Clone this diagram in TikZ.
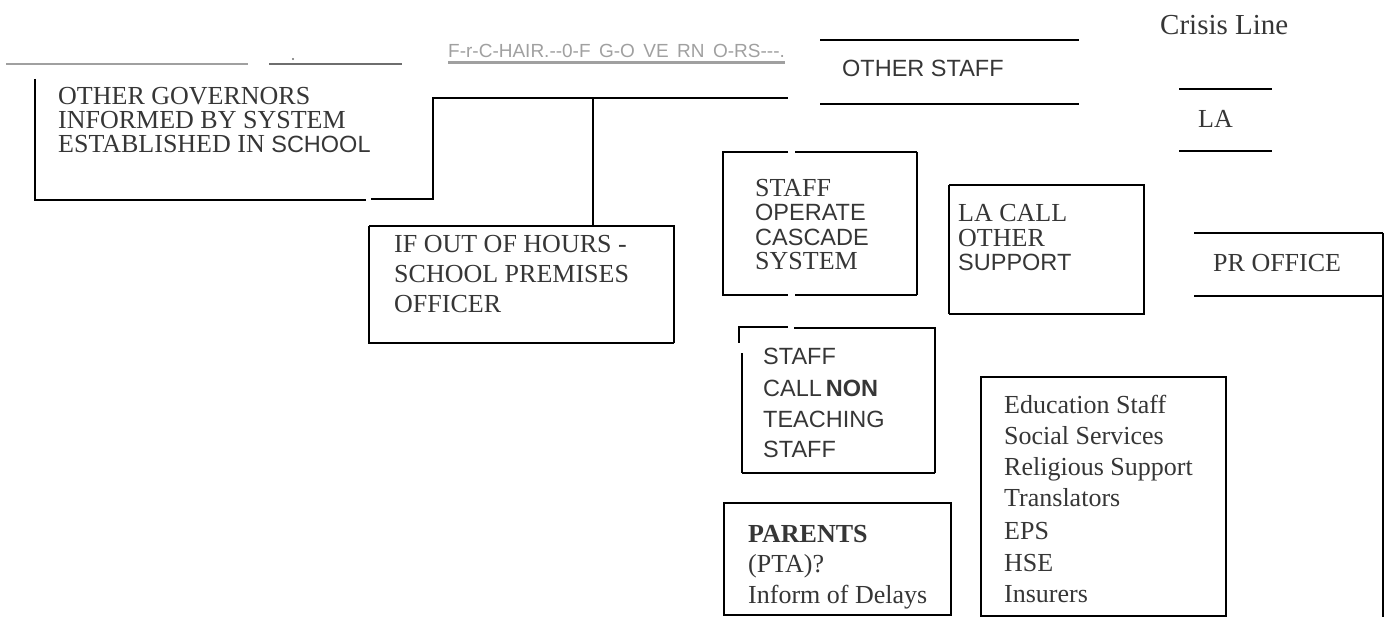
\documentclass[tikz,border=0pt]{standalone}
\usepackage{fontspec}
\setmainfont{Liberation Serif}
\setsansfont{Liberation Sans}
\definecolor{ink}{HTML}{363636}
\definecolor{pale}{HTML}{A0A0A0}
\definecolor{mid}{HTML}{6E6E6E}
\begin{document}
\begin{tikzpicture}[x=1pt,y=-1pt,
  tx/.style={anchor=base west,inner sep=0pt,text=ink,text depth=0pt,font=\fontsize{26}{30}\selectfont},
  sx/.style={anchor=base west,inner sep=0pt,text=ink,text depth=0pt,font=\sffamily\fontsize{23.5}{28}\selectfont},
  ln/.style={line width=2pt,black},
  thk/.style={line width=2.6pt,black},
  thn/.style={line width=1.4pt,black}]
\useasboundingbox (0,0) rectangle (1393,617);

% top-left fragments
\coordinate (g1a) at (6,64); \coordinate (g1b) at (248,64);
\draw[line width=2.6pt,pale] (g1a) -- (g1b);
\coordinate (g2a) at (269,64); \coordinate (g2b) at (402,64);
\draw[line width=2.6pt,mid] (g2a) -- (g2b);
\fill[mid] (293,59) circle (1.2);

% chair of governors (garbled)
\node[anchor=base west,inner sep=0pt,text=pale,text depth=0pt,font=\sffamily\fontsize{19}{22}\selectfont] (chair) at (448,58) {F-r-C-HAIR.-{}-0-F\, G-O\, VE\, RN\, O-RS-{}-{}-.};
\coordinate (cua) at (448,63); \coordinate (cub) at (785,63);
\draw[line width=3pt,pale] (cua) -- (cub);

% other staff
\coordinate (os1) at (820,40); \coordinate (os2) at (1079,40);
\coordinate (os3) at (820,104); \coordinate (os4) at (1079,104);
\draw[thk] (os1) -- (os2);
\draw[thk] (os3) -- (os4);
\node[sx] (ostaff) at (842,77) {OTHER STAFF};

% crisis line / LA
\node[tx,font=\fontsize{29}{32}\selectfont] (crisis) at (1160,35) {Crisis Line};
\coordinate (la1) at (1179,89); \coordinate (la2) at (1272,89);
\coordinate (la3) at (1179,151); \coordinate (la4) at (1272,151);
\draw[ln] (la1) -- (la2);
\draw[ln] (la3) -- (la4);
\node[tx] (la) at (1198,128) {LA};

% other governors box + connector
\coordinate (ogt) at (35,79); \coordinate (ogb) at (35,200);
\coordinate (ogr) at (366,200); \coordinate (ogg) at (371,199);
\coordinate (jb) at (433,199); \coordinate (jt) at (433,98);
\coordinate (je) at (788,98); \coordinate (jm) at (593,98);
\draw[thk] (ogt) -- (ogb) -- (ogr);
\draw[ln] (ogg) -- (jb) -- (jt) -- (je);
\node[tx] (og1) at (58,105) {OTHER GOVERNORS};
\node[tx] (og2) at (58,129) {INFORMED BY SYSTEM};
\node[tx] (og3) at (58,153) {ESTABLISHED IN {\sffamily\fontsize{23.5}{26}\selectfont SCHOOL}};

% IF OUT OF HOURS box
\coordinate (if1) at (369,226); \coordinate (if2) at (674,226);
\coordinate (if3) at (674,343); \coordinate (if4) at (369,343);
\coordinate (ifc) at (593,226);
\draw[ln] (jm) -- (ifc);
\draw[thn] (if1) -- (if2) -- (if3);
\draw[thk] (if3) -- (if4) -- (if1);
\node[tx] (if1t) at (394,253) {IF OUT OF HOURS -};
\node[tx] (if2t) at (394,283) {SCHOOL PREMISES};
\node[tx] (if3t) at (394,313) {OFFICER};

% staff operate cascade system
\coordinate (so1) at (723,152); \coordinate (so2) at (788,152);
\coordinate (so3) at (795,152); \coordinate (so4) at (917,152);
\coordinate (so5) at (917,295); \coordinate (so6) at (795,295);
\coordinate (so7) at (788,295); \coordinate (so8) at (723,295);
\draw[thn] (so2) -- (so1) -- (so8) -- (so7);
\draw[ln] (so3) -- (so4);
\draw[thk] (so4) -- (so5);
\draw[ln] (so5) -- (so6);
\node[tx] (so1t) at (755,197) {STAFF};
\node[sx] (so2t) at (755,221) {OPERATE};
\node[sx] (so3t) at (755,246) {CASCADE};
\node[tx] (so4t) at (755,270) {SYSTEM};

% LA call other support
\coordinate (lc1) at (949,185); \coordinate (lc2) at (1144,185);
\coordinate (lc3) at (1144,314); \coordinate (lc4) at (949,314);
\draw[thn] (lc4) -- (lc1);
\draw[ln] (lc1) -- (lc2) -- (lc3) -- (lc4);
\node[tx] (lc1t) at (958,222) {LA CALL};
\node[tx] (lc2t) at (958,247) {OTHER};
\node[sx] (lc3t) at (958,271) {SUPPORT};

% PR office
\coordinate (pr1) at (1194,233); \coordinate (pr2) at (1383,233);
\coordinate (pr3) at (1194,296); \coordinate (pr4) at (1383,296);
\coordinate (pr5) at (1383,617);
\draw[ln] (pr1) -- (pr2);
\draw[ln] (pr3) -- (pr4);
\draw[ln] (pr2) -- (pr5);
\node[tx] (prt) at (1213,272) {PR OFFICE};

% staff call non teaching staff
\coordinate (sc0) at (739,343); \coordinate (sc1) at (739,327);
\coordinate (sc2) at (788,327); \coordinate (sc3) at (794,328);
\coordinate (sc4) at (935,328); \coordinate (sc5) at (935,473);
\coordinate (sc6) at (742,473); \coordinate (sc7) at (742,353);
\draw[thk] (sc0) -- (sc1) -- (sc2);
\draw[thn] (sc3) -- (sc4) -- (sc5);
\draw[thk] (sc5) -- (sc6);
\draw[ln] (sc6) -- (sc7);
\node[sx] (sc1t) at (763,365) {STAFF};
\node[sx] (sc2t) at (763,397) {CALL\,\textbf{NON}};
\node[sx] (sc3t) at (763,428) {TEACHING};
\node[sx] (sc4t) at (763,458) {STAFF};

% education staff list
\coordinate (ed1) at (981,377); \coordinate (ed2) at (1226,377);
\coordinate (ed3) at (1226,616); \coordinate (ed4) at (981,616);
\draw[ln] (ed1) -- (ed2) -- (ed3) -- (ed4) -- cycle;
\node[tx] (e1) at (1004,414) {Education Staff};
\node[tx] (e2) at (1004,445) {Social Services};
\node[tx] (e3) at (1004,476) {Religious Support};
\node[tx] (e4) at (1004,507) {Translators};
\node[tx] (e5) at (1004,539) {EPS};
\node[tx] (e6) at (1004,571) {HSE};
\node[tx] (e7) at (1004,602) {Insurers};

% parents
\coordinate (pa1) at (724,503); \coordinate (pa2) at (951,503);
\coordinate (pa3) at (951,615); \coordinate (pa4) at (724,615);
\draw[ln] (pa1) -- (pa2) -- (pa3) -- (pa4) -- cycle;
\node[tx] (p1) at (748,542) {\textbf{PARENTS}};
\node[tx] (p2) at (748,572) {(PTA)?};
\node[tx] (p3) at (748,603) {Inform of Delays};
\end{tikzpicture}
\end{document}
